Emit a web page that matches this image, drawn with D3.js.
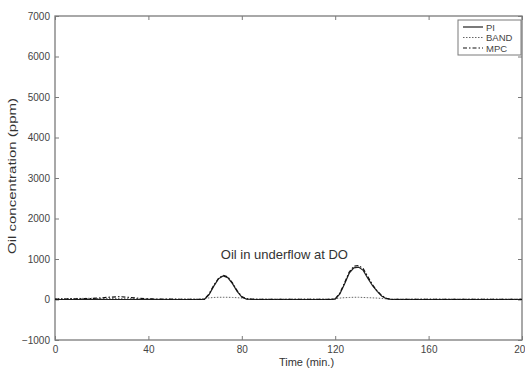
<!DOCTYPE html>
<html><head><meta charset="utf-8">
<script src="https://cdn.jsdelivr.net/npm/d3@7"></script>
<style>body{margin:0;background:#fff;}svg{display:block;font-family:"Liberation Sans",Arial,sans-serif;}</style>
</head><body><svg id="c" width="525" height="372"></svg>
<script>
const times = [0,8,16,20,24,28,32,36,44,56,62,64,66,68,70,72,74,76,78,80,82,86,100,112,118,120,122,124,126,128,130,132,134,136,138,140,142,144,160,180,200];
const piVals   = [0,0,0,0,0,0,0,0,0,0,0,5,120,330,510,580,540,390,200,60,10,0,0,0,0,10,140,380,650,780,800,720,520,340,200,80,20,0,0,0,0];
const bandVals = [20,25,30,20,25,20,20,15,10,10,10,25,40,50,55,55,55,50,45,35,20,10,10,10,10,20,35,45,50,55,55,50,45,40,35,25,15,10,10,10,10];
const mpcVals  = [10,15,25,40,60,70,50,30,10,5,5,10,140,350,520,600,560,410,220,70,15,5,5,5,5,15,160,410,680,820,840,760,560,360,210,90,30,5,5,5,5];
const seriesNames = ["PI","BAND","MPC"];
const xTicks = [0,40,80,120,160,200];
const yTicks = [-1000,0,1000,2000,3000,4000,5000,6000,7000];

const svg = d3.select("#c");
const L = 55, R = 522, T = 16, B = 340;
const x = d3.scaleLinear().domain([0,200]).range([L,R]);
const y = d3.scaleLinear().domain([-1000,7000]).range([B,T]);
const axisCol = "#7a7a7a", textCol = "#444";

svg.append("rect").attr("x",L).attr("y",T).attr("width",R-L).attr("height",B-T)
  .attr("fill","none").attr("stroke",axisCol).attr("stroke-width",1.3);

const gx = svg.append("g").attr("transform",`translate(0,${B})`)
  .call(d3.axisBottom(x).tickValues(xTicks).tickSize(-4).tickPadding(6).tickFormat(d3.format("d")));
const gxTop = svg.append("g").attr("transform",`translate(0,${T})`)
  .call(d3.axisTop(x).tickValues(xTicks).tickSize(-4).tickFormat(""));
const gy = svg.append("g").attr("transform",`translate(${L},0)`)
  .call(d3.axisLeft(y).tickValues(yTicks).tickSize(-4).tickPadding(5).tickFormat(d3.format("d")));
const gyR = svg.append("g").attr("transform",`translate(${R},0)`)
  .call(d3.axisRight(y).tickValues(yTicks).tickSize(-4).tickFormat(""));
[gx,gxTop,gy,gyR].forEach(g=>{
  g.select(".domain").remove();
  g.selectAll("line").attr("stroke",axisCol);
  g.selectAll("text").attr("fill",textCol).attr("font-size",10).attr("font-family","Liberation Sans, Arial, sans-serif");
});

const line = d3.line().x((d,i)=>x(times[i])).y(d=>y(d));
svg.append("path").datum(bandVals).attr("d",line).attr("fill","none").attr("stroke","#666").attr("stroke-width",1).attr("stroke-dasharray","1.5,1.5");
svg.append("path").datum(piVals).attr("d",line).attr("fill","none").attr("stroke","#222").attr("stroke-width",1.2);
svg.append("path").datum(mpcVals).attr("d",line).attr("fill","none").attr("stroke","#111").attr("stroke-width",1.2).attr("stroke-dasharray","4,2,1.5,2");

svg.append("text").attr("x",(L+R)/2+18).attr("y",366).attr("text-anchor","middle").attr("font-size",11).attr("fill","#333").text("Time (min.)");
svg.append("text").attr("transform",`translate(16,176) rotate(-90)`).attr("text-anchor","middle").attr("font-size",10.5)
  .attr("textLength",156).attr("lengthAdjust","spacingAndGlyphs").attr("fill","#333").text("Oil concentration (ppm)");
svg.append("text").attr("x",x(71)).attr("y",y(1000)).attr("font-size",13).attr("fill","#333").text("Oil in underflow at DO");

const lg = svg.append("g");
lg.append("rect").attr("x",458).attr("y",20).attr("width",63).attr("height",35).attr("fill","#fff").attr("stroke",axisCol).attr("stroke-width",1);
const dashes = [null,"1.5,1.5","4,2,1.5,2"];
const cols = ["#222","#666","#111"];
seriesNames.forEach((n,i)=>{
  const yy = 27 + i*10.5;
  lg.append("line").attr("x1",463).attr("x2",483).attr("y1",yy).attr("y2",yy).attr("stroke",cols[i]).attr("stroke-width",1.2).attr("stroke-dasharray",dashes[i]);
  lg.append("text").attr("x",486).attr("y",yy+3.5).attr("font-size",9.5).attr("fill","#444").text(n);
});
</script></body></html>
